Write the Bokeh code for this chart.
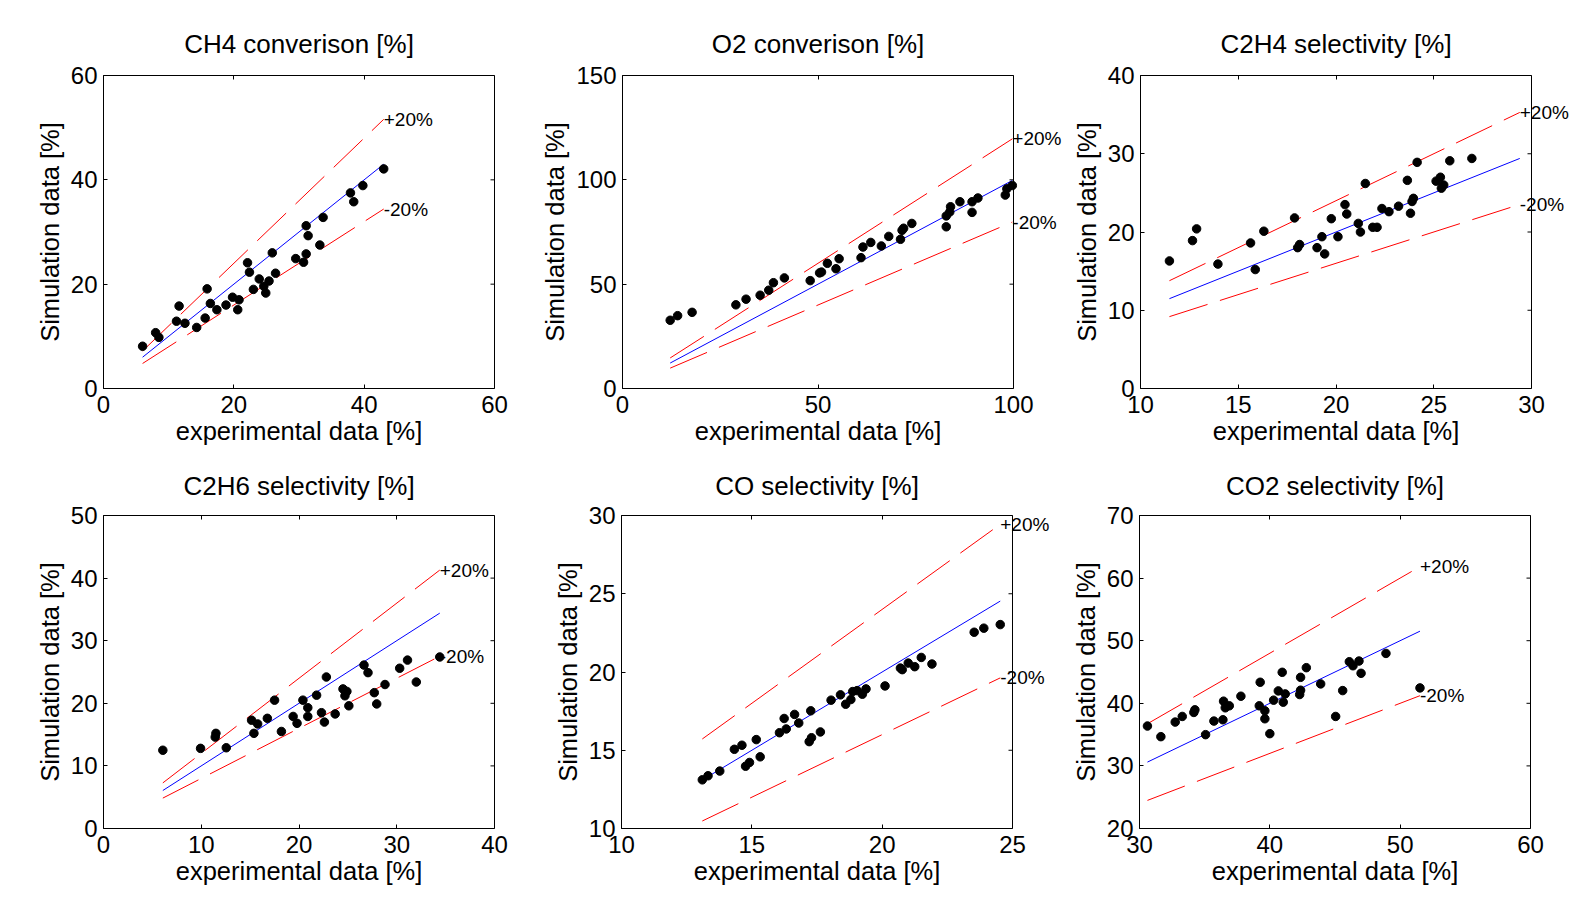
from bokeh.plotting import figure
from bokeh.layouts import column, row
from bokeh.models import Range1d, LinearAxis, Label, FixedTicker, Span, Title
from bokeh.embed import file_html
from bokeh.resources import INLINE

FONT = "Liberation Sans"

titles = ["CH4 converison [%]", "O2 converison [%]", "C2H4 selectivity [%]",
          "C2H6 selectivity [%]", "CO selectivity [%]", "CO2 selectivity [%]"]
x_label = "experimental data [%]"
y_label = "Simulation data [%]"
band_labels = ["+20%", "-20%"]

ch4_exp = [6.0, 8.0, 8.5, 11.6, 11.2, 12.5, 14.3, 15.6, 15.9, 16.4, 17.4, 18.8, 19.8, 20.8, 20.6,
           22.1, 22.4, 23.0, 23.9, 24.6, 24.9, 25.4, 25.9, 26.4, 29.5, 30.7, 31.1, 31.1, 31.4,
           33.2, 33.7, 37.9, 38.4, 39.8, 43.0]
ch4_sim = [8.1, 10.7, 9.8, 15.8, 12.9, 12.5, 11.7, 13.5, 19.1, 16.3, 15.1, 16.0, 17.5, 17.0, 15.1,
           24.1, 22.3, 19.0, 21.0, 19.6, 18.3, 20.6, 26.0, 22.1, 24.9, 24.2, 25.8, 31.2, 29.3,
           27.5, 32.8, 37.5, 35.8, 38.9, 42.1]

o2_exp = [12.2, 14.1, 17.8, 29.0, 31.6, 35.2, 37.4, 38.6, 41.4, 48.0, 50.4, 50.9, 52.4, 54.6,
          55.4, 61.0, 61.5, 63.5, 66.2, 68.1, 71.1, 71.5, 71.9, 74.0, 82.8, 82.8, 83.7, 83.9,
          86.3, 89.4, 89.4, 90.9, 97.9, 98.3, 99.7]
o2_sim = [32.7, 34.9, 36.5, 40.1, 42.8, 44.7, 47.1, 50.7, 53.0, 51.7, 55.4, 55.8, 60.0, 57.4,
          62.2, 62.7, 67.8, 70.0, 68.3, 72.9, 71.5, 75.8, 76.8, 79.1, 77.5, 82.7, 84.6, 87.1,
          89.5, 84.4, 89.5, 91.3, 92.7, 95.7, 97.3]

c2h4_exp = [11.48, 12.66, 12.87, 13.96, 15.63, 15.87, 16.31, 17.88, 18.04, 18.14, 19.03, 19.28,
            19.42, 19.76, 20.10, 20.46, 20.55, 21.14, 21.25, 21.5, 21.88, 22.1, 22.35, 22.71,
            23.2, 23.65, 23.81, 23.89, 23.96, 24.15, 25.12, 25.34, 25.51, 25.39, 25.82, 26.95]
c2h4_sim = [16.3, 18.9, 20.4, 15.9, 18.6, 15.2, 20.1, 21.8, 18.0, 18.4, 18.0, 19.4, 17.2, 21.7,
            19.4, 23.5, 22.3, 21.1, 20.0, 26.2, 20.6, 20.6, 23.0, 22.6, 23.3, 26.6, 22.4, 23.9,
            24.3, 28.9, 26.5, 27.0, 26.0, 25.6, 29.1, 29.4]

c2h6_exp = [6.07, 9.93, 11.43, 11.5, 12.56, 15.15, 15.39, 15.77, 16.76, 17.5, 18.2, 19.4, 19.8,
            20.4, 20.9, 20.9, 21.8, 22.3, 22.6, 22.8, 23.7, 24.5, 24.9, 24.7, 25.1, 26.65, 27.06,
            27.7, 27.95, 28.8, 30.3, 31.1, 32.0, 34.4]
c2h6_sim = [12.5, 12.8, 14.6, 15.2, 12.9, 17.3, 15.2, 16.7, 17.6, 20.5, 15.5, 17.9, 16.8, 20.5,
            19.3, 17.9, 21.3, 18.5, 17.0, 24.2, 18.3, 22.3, 21.9, 21.2, 19.6, 26.1, 24.9, 21.7,
            19.9, 23.0, 25.6, 26.9, 23.4, 27.4]

co_exp = [13.1, 13.32, 13.77, 14.33, 14.62, 14.76, 14.91, 15.17, 15.32, 16.06, 16.24, 16.32,
          16.64, 16.80, 17.2, 17.29, 17.26, 17.63, 18.04, 18.4, 18.6, 18.8, 18.87, 19.04, 19.24,
          19.38, 20.11, 20.7, 20.77, 21.0, 21.25, 21.5, 21.91, 23.53, 23.9, 24.53]
co_sim = [13.11, 13.37, 13.67, 15.06, 15.32, 13.98, 14.22, 15.68, 14.58, 16.12, 17.03, 16.36,
          17.29, 16.74, 15.55, 15.8, 17.52, 16.17, 18.2, 18.54, 17.94, 18.24, 18.75, 18.81, 18.58,
          18.92, 19.11, 20.25, 20.15, 20.57, 20.34, 20.93, 20.51, 22.54, 22.8, 23.03]

co2_exp = [30.61, 31.64, 32.74, 33.28, 34.17, 34.25, 35.07, 35.71, 36.4, 36.45, 36.58, 36.89,
           37.78, 39.19, 39.26, 39.62, 39.62, 40.0, 40.29, 40.65, 40.95, 41.03, 41.18, 42.29,
           42.36, 42.36, 42.8, 43.9, 45.05, 45.59, 46.1, 46.38, 46.84, 47.0, 48.91, 51.52]
co2_sim = [36.37, 34.67, 37.0, 37.9, 38.54, 38.96, 34.99, 37.16, 37.37, 40.34, 39.28, 39.6,
           41.13, 39.6, 43.36, 38.8, 37.53, 35.15, 40.5, 41.98, 44.95, 40.18, 41.5, 41.4, 42.09,
           44.15, 45.69, 43.1, 37.9, 42.03, 46.64, 46.0, 46.75, 44.79, 47.97, 42.46]

x_ranges = [(0, 60), (0, 100), (10, 30), (0, 40), (10, 25), (30, 60)]
y_ranges = [(0, 60), (0, 150), (0, 40), (0, 50), (10, 30), (20, 70)]
x_ticks = [[0, 20, 40, 60], [0, 50, 100], [10, 15, 20, 25, 30], [0, 10, 20, 30, 40],
           [10, 15, 20, 25], [30, 40, 50, 60]]
y_ticks = [[0, 20, 40, 60], [0, 50, 100, 150], [0, 10, 20, 30, 40], [0, 10, 20, 30, 40, 50],
           [10, 15, 20, 25, 30], [20, 30, 40, 50, 60, 70]]

series = [(ch4_exp, ch4_sim), (o2_exp, o2_sim), (c2h4_exp, c2h4_sim),
          (c2h6_exp, c2h6_sim), (co_exp, co_sim), (co2_exp, co2_sim)]

# layout (pixels)
BOX_W, BOX_H = 391, 313
left_b = [103, 83, 77]
extra_r = [44, 50, 52]          # room right of the box for the +/-20% labels
top_b = [75, 60]
bottom_b = [65, 65]
title_standoff = [34, 30]
TITLE_PX = 26
XLAB_PX = 25.5
TICK_LEN = 4

# Arial / Liberation Sans advance widths (1/1000 em), used to centre texts over the box
ARIAL_W = {"C": 722, "H": 722, "O": 778, " ": 278, "c": 500, "o": 556, "n": 556, "v": 500,
           "e": 556, "r": 333, "i": 222, "s": 500, "l": 222, "t": 278, "y": 500, "[": 278,
           "%": 889, "]": 278, "x": 500, "p": 556, "m": 833, "a": 556, "d": 556}


def text_w(s, px):
    return sum(ARIAL_W.get(ch, 556) for ch in s) * px / 1000.0


def style_axis(ax, ticks, show_labels=True):
    ax.ticker = FixedTicker(ticks=ticks)
    ax.major_tick_in = TICK_LEN
    ax.major_tick_out = 0
    ax.minor_tick_in = 0
    ax.minor_tick_out = 0
    ax.axis_line_color = "black"
    ax.major_tick_line_color = "black"
    if show_labels:
        ax.major_label_text_font = FONT
        ax.major_label_text_font_size = "24px"
        ax.major_label_text_color = "black"
        ax.major_label_standoff = 6
        ax.axis_label_text_font = FONT
        ax.axis_label_text_font_size = "%gpx" % XLAB_PX
        ax.axis_label_text_font_style = "normal"
        ax.axis_label_text_color = "black"
        ax.axis_label_standoff = 4
    else:
        ax.major_label_text_font_size = "1px"
        ax.major_label_text_color = None
        ax.major_label_standoff = 0


def make(i):
    r, c = divmod(i, 3)
    xs, ys = series[i]
    xmin, xmax = x_ranges[i]
    ext = extra_r[c]
    x_end = xmax + (xmax - xmin) * ext / BOX_W
    p = figure(frame_width=BOX_W + ext, frame_height=BOX_H,
               x_range=Range1d(xmin, x_end), y_range=Range1d(*y_ranges[i]),
               output_backend="svg", toolbar_location=None,
               min_border_left=left_b[c], min_border_right=0,
               min_border_top=top_b[r], min_border_bottom=bottom_b[r],
               title=titles[i])
    p.grid.visible = False
    p.outline_line_color = None
    p.title.align = "left"
    p.title.offset = (BOX_W - text_w(titles[i], TITLE_PX)) / 2.0
    p.title.text_font = FONT
    p.title.text_font_size = "%dpx" % TITLE_PX
    p.title.text_font_style = "normal"
    p.title.text_color = "black"
    p.title.standoff = title_standoff[r]

    style_axis(p.xaxis[0], x_ticks[i])
    style_axis(p.yaxis[0], y_ticks[i])
    p.xaxis[0].bounds = (xmin, xmax)
    p.xaxis[0].major_label_standoff = 7
    p.yaxis[0].axis_label = y_label

    # x-axis title, centred under the box (not under the label margin)
    p.add_layout(Title(text=x_label, align="left",
                       offset=(BOX_W - text_w(x_label, XLAB_PX)) / 2.0,
                       vertical_align="top", standoff=2, text_font=FONT,
                       text_font_size="%gpx" % XLAB_PX, text_font_style="normal",
                       text_color="black"), "below")

    top_ax = LinearAxis(bounds=(xmin, xmax))
    style_axis(top_ax, x_ticks[i], False)
    p.add_layout(top_ax, "above")

    # right edge of the box and its inward ticks
    p.add_layout(Span(location=xmax, dimension="height", line_color="black", line_width=1))
    d = (xmax - xmin) / BOX_W * TICK_LEN
    yt = y_ticks[i]
    p.segment(x0=[xmax] * len(yt), y0=yt, x1=[xmax - d] * len(yt), y1=yt,
              line_color="black", line_width=1)

    x0 = min(xs)
    x1 = max(max(xs), max(ys))
    p.line([x0, x1], [x0 * 1.2, x1 * 1.2], line_color="#ff0000", line_width=1,
           line_dash="40 13")
    p.line([x0, x1], [x0 * 0.8, x1 * 0.8], line_color="#ff0000", line_width=1,
           line_dash="40 13")
    p.line([x0, x1], [x0, x1], line_color="#0000ff", line_width=1)
    p.scatter(xs, ys, size=8.5, fill_color="black", line_color="black")
    for f, t in zip((1.2, 0.8), band_labels):
        p.add_layout(Label(x=x1, y=x1 * f, text=t, text_align="left",
                           text_baseline="middle", text_font=FONT,
                           text_font_size="19px", text_color="black"))
    return p


figs = [make(i) for i in range(6)]
layout = column(row(*figs[:3], spacing=0), row(*figs[3:], spacing=0), spacing=0)
open("out.html", "w").write(file_html(layout, INLINE))
